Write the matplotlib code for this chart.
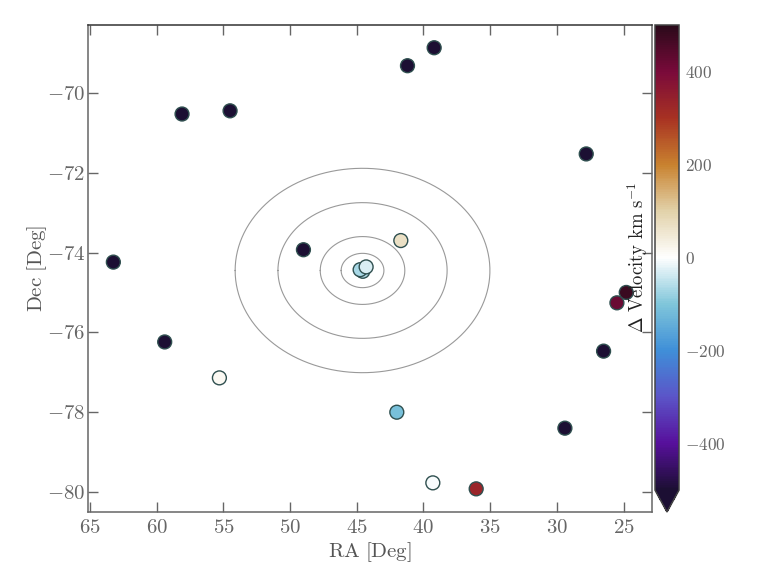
import numpy as np
import matplotlib
matplotlib.use("Agg")
import matplotlib.pyplot as plt
from matplotlib.colors import LinearSegmentedColormap, Normalize

# --- Data ---
ra = [39.2, 41.2, 58.1, 54.5, 27.8, 49.0, 63.25, 26.5, 59.4, 29.4,
      41.7, 44.55, 44.75, 44.3, 24.8, 25.5, 55.3, 42.0, 39.3, 36.05]
dec = [-68.87, -69.32, -70.53, -70.45, -71.53, -73.93, -74.24, -76.47, -76.24, -78.4,
       -73.7, -74.47, -74.43, -74.36, -75.0, -75.26, -77.14, -78.0, -79.77, -79.92]
dv = [-500, -500, -500, -500, -500, -500, -500, -500, -500, -500,
      70, -60, -70, -30, 480, 420, 15, -110, -5, 330]

ra0, dec0 = 44.57, -74.45
radii = [0.43, 0.85, 1.7, 2.56]

xticks = [65, 60, 55, 50, 45, 40, 35, 30, 25]
yticks = [-80, -78, -76, -74, -72, -70]
cticks = [-400, -200, 0, 200, 400]

plt.rcParams['font.family'] = ['cmr10', 'DejaVu Sans']
plt.rcParams['mathtext.fontset'] = 'cm'
plt.rcParams['axes.formatter.use_mathtext'] = True

GREY = '#666666'

# diverging map sampled from the colourbar
cmap = LinearSegmentedColormap.from_list('dv', [
    (0.00, '#1c0f33'), (0.10, '#57109c'), (0.20, '#5b55c8'), (0.30, '#3f8fd8'),
    (0.40, '#80c6da'), (0.50, '#ffffff'), (0.60, '#e2d2aa'), (0.70, '#c9822f'),
    (0.80, '#a83222'), (0.90, '#7a0a3a'), (1.00, '#2a0a1a')])

W, H = 781, 586
fig = plt.figure(figsize=(W / 100, H / 100), dpi=100)
ax = fig.add_axes([88 / W, 1 - 512 / H, 564 / W, 487 / H])

# circles on the sky, RA stretched by 1/cos(dec) at the centre
theta = np.linspace(0, 2 * np.pi, 400)
stretch = 1 / np.cos(np.radians(dec0))
for r in radii:
    ax.plot(ra0 + r * stretch * np.cos(theta), dec0 + r * np.sin(theta),
            color='#999999', lw=0.8, zorder=1)

sc = ax.scatter(ra, dec, c=dv, cmap=cmap, norm=Normalize(-500, 500), s=100,
                edgecolors='#2f4f4f', linewidths=1.0, zorder=2)

ax.set_xlim(65.15, 22.87)
ax.set_ylim(-80.5, -68.3)
ax.set_xticks(xticks)
ax.set_yticks(yticks)
ax.set_xticklabels([f'${v}$' for v in xticks])
ax.set_yticklabels([f'${v}$' for v in yticks])
ax.tick_params(direction='in', length=7, width=1, top=True, right=True,
               color=GREY, labelcolor=GREY, labelsize=15)
ax.tick_params(axis='y', pad=2)
ax.tick_params(axis='x', pad=5)
for side, s in ax.spines.items():
    s.set_color('#333333' if side == 'top' else GREY)
    s.set_linewidth(1.1)
ax.set_xlabel(r'$\mathrm{RA\ [Deg]}$', fontsize=15, color='#555555', labelpad=2)
ax.set_ylabel(r'$\mathrm{Dec\ [Deg]}$', fontsize=15, color='#555555', labelpad=-2)

cax = fig.add_axes([655 / W, 1 - 512 / H, 24 / W, 487 / H])
cbar = fig.colorbar(sc, cax=cax, extend='min', extendfrac=0.047)
cbar.set_ticks(cticks)
cbar.set_ticklabels([f'${v}$' for v in cticks])
cax.tick_params(length=0, labelcolor=GREY, labelsize=12.5, pad=4)
cbar.outline.set_edgecolor('#444444')
cbar.outline.set_linewidth(1.1)
cbar.set_label(r'$\Delta\ \mathrm{Velocity\ km\ s}^{-1}$', fontsize=13.5, color='#222222')
cax.yaxis.set_label_coords(-1.25, 0.5)

fig.savefig('out.png', dpi=100)
